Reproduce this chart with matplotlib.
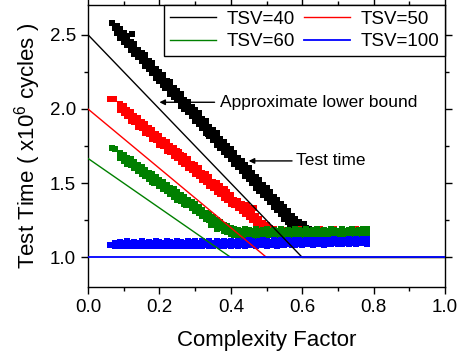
import numpy as np
import matplotlib
matplotlib.use("Agg")
import matplotlib.pyplot as plt

plt.rcParams['font.family'] = ['Liberation Sans', 'DejaVu Sans']
plt.rcParams['mathtext.fontset'] = 'custom'
plt.rcParams['mathtext.rm'] = 'Liberation Sans'
plt.rcParams['mathtext.it'] = 'Liberation Sans'

# ---- measured test time (upper edge, middle and lower edge of each noisy band) ----
black_x = [0.08, 0.09, 0.10, 0.11, 0.12, 0.13, 0.14, 0.15, 0.16, 0.17, 0.18, 0.19,
           0.20, 0.21, 0.22, 0.23, 0.24, 0.25, 0.26, 0.27, 0.28, 0.29, 0.30, 0.31,
           0.32, 0.33, 0.34, 0.35, 0.36, 0.37, 0.38, 0.39, 0.40, 0.41, 0.42, 0.43,
           0.44, 0.45, 0.46, 0.47, 0.48, 0.49, 0.50, 0.51, 0.52, 0.53, 0.54, 0.55,
           0.56, 0.57, 0.58, 0.59, 0.60, 0.61, 0.62, 0.63]
black_hi = [2.56, 2.54, 2.51, 2.49, 2.45, 2.44, 2.40, 2.38, 2.36, 2.32, 2.31, 2.27,
            2.25, 2.23, 2.19, 2.18, 2.14, 2.12, 2.10, 2.06, 2.05, 2.01, 1.99, 1.97,
            1.93, 1.92, 1.88, 1.86, 1.84, 1.80, 1.78, 1.75, 1.73, 1.70, 1.67, 1.65,
            1.62, 1.60, 1.57, 1.54, 1.52, 1.49, 1.47, 1.44, 1.41, 1.39, 1.36, 1.34,
            1.31, 1.28, 1.26, 1.24, 1.21, 1.20, 1.19, 1.18]
black_mid = [2.535, 2.505, 2.485, 2.455, 2.43, 2.40, 2.38, 2.35, 2.32, 2.30, 2.27, 2.24,
             2.22, 2.19, 2.165, 2.14, 2.11, 2.09, 2.06, 2.03, 2.01, 1.98, 1.955, 1.93,
             1.90, 1.88, 1.85, 1.82, 1.80, 1.77, 1.745, 1.72, 1.69, 1.665, 1.64, 1.61,
             1.585, 1.56, 1.535, 1.505, 1.48, 1.455, 1.43, 1.40, 1.375, 1.35, 1.325, 1.30,
             1.27, 1.245, 1.22, 1.20, 1.185, 1.175, 1.17, 1.165]
black_lo = [2.51, 2.48, 2.45, 2.43, 2.40, 2.37, 2.35, 2.32, 2.29, 2.27, 2.24, 2.21,
            2.19, 2.16, 2.14, 2.10, 2.08, 2.06, 2.02, 2.00, 1.98, 1.95, 1.92, 1.90,
            1.87, 1.84, 1.82, 1.79, 1.76, 1.74, 1.71, 1.69, 1.66, 1.63, 1.61, 1.58,
            1.55, 1.53, 1.50, 1.47, 1.45, 1.42, 1.40, 1.37, 1.34, 1.32, 1.29, 1.26,
            1.24, 1.22, 1.19, 1.17, 1.16, 1.15, 1.15, 1.15]
black_extra_x = [0.066, 0.076, 0.097, 0.122, 0.105, 0.215, 0.335, 0.455, 0.565, 0.605]
black_extra_y = [2.58, 2.545, 2.50, 2.505, 2.47, 2.14, 1.83, 1.55, 1.21, 1.225]

red_x = [0.09, 0.10, 0.11, 0.12, 0.13, 0.14, 0.15, 0.16, 0.17, 0.18, 0.19, 0.20,
         0.21, 0.22, 0.23, 0.24, 0.25, 0.26, 0.27, 0.28, 0.29, 0.30, 0.31, 0.32,
         0.33, 0.34, 0.35, 0.36, 0.37, 0.38, 0.39, 0.40, 0.41, 0.42, 0.43, 0.44,
         0.45, 0.46, 0.47, 0.48, 0.49, 0.50, 0.51, 0.52, 0.53, 0.55, 0.57, 0.59,
         0.61, 0.63, 0.65, 0.67, 0.69, 0.71, 0.73, 0.75, 0.77, 0.78]
red_hi = [2.03, 2.02, 1.99, 1.98, 1.95, 1.94, 1.91, 1.90, 1.87, 1.86, 1.83, 1.82,
          1.79, 1.78, 1.75, 1.74, 1.72, 1.69, 1.68, 1.66, 1.63, 1.62, 1.60, 1.57,
          1.56, 1.54, 1.51, 1.50, 1.48, 1.45, 1.44, 1.42, 1.39, 1.38, 1.36, 1.34,
          1.33, 1.30, 1.28, 1.26, 1.23, 1.22, 1.20, 1.19, 1.18, 1.185, 1.18, 1.19,
          1.18, 1.185, 1.19, 1.18, 1.19, 1.185, 1.18, 1.19, 1.185, 1.19]
red_mid = [2.01, 1.995, 1.97, 1.95, 1.93, 1.91, 1.89, 1.87, 1.85, 1.83, 1.81, 1.79,
           1.77, 1.75, 1.73, 1.71, 1.695, 1.665, 1.655, 1.63, 1.61, 1.59, 1.575, 1.545,
           1.535, 1.51, 1.49, 1.47, 1.455, 1.425, 1.415, 1.39, 1.37, 1.355, 1.335, 1.315,
           1.30, 1.275, 1.255, 1.235, 1.21, 1.20, 1.185, 1.175, 1.17, 1.175, 1.17, 1.175,
           1.17, 1.175, 1.17, 1.175, 1.17, 1.175, 1.17, 1.175, 1.17, 1.175]
red_lo = [1.99, 1.97, 1.95, 1.92, 1.91, 1.88, 1.87, 1.84, 1.83, 1.80, 1.79, 1.76,
          1.75, 1.72, 1.71, 1.68, 1.67, 1.64, 1.63, 1.60, 1.59, 1.56, 1.55, 1.52,
          1.51, 1.48, 1.47, 1.44, 1.43, 1.40, 1.39, 1.36, 1.35, 1.33, 1.31, 1.29,
          1.27, 1.25, 1.23, 1.21, 1.19, 1.18, 1.17, 1.16, 1.16, 1.16, 1.16, 1.16,
          1.16, 1.16, 1.16, 1.16, 1.16, 1.16, 1.16, 1.16, 1.16, 1.16]
red_extra_x = [0.062, 0.072, 0.255, 0.385, 0.445, 0.465]
red_extra_y = [2.07, 2.065, 1.71, 1.46, 1.35, 1.33]

green_x = [0.09, 0.10, 0.11, 0.12, 0.13, 0.14, 0.15, 0.16, 0.17, 0.18, 0.19, 0.20,
           0.21, 0.22, 0.23, 0.24, 0.25, 0.26, 0.27, 0.28, 0.29, 0.30, 0.31, 0.32,
           0.33, 0.34, 0.35, 0.36, 0.37, 0.38, 0.39, 0.40, 0.41, 0.42, 0.43, 0.44,
           0.45, 0.46, 0.47, 0.48, 0.49, 0.50, 0.51, 0.52, 0.53, 0.54, 0.55, 0.56,
           0.57, 0.58, 0.59, 0.60, 0.61, 0.62, 0.63, 0.64, 0.65, 0.66, 0.67, 0.68,
           0.69, 0.70, 0.71, 0.72, 0.73, 0.74, 0.75, 0.76, 0.77, 0.78]
green_hi = [1.70, 1.69, 1.67, 1.66, 1.64, 1.62, 1.61, 1.59, 1.57, 1.56, 1.54, 1.52,
            1.51, 1.49, 1.47, 1.46, 1.44, 1.42, 1.41, 1.39, 1.37, 1.36, 1.34, 1.32,
            1.30, 1.29, 1.27, 1.25, 1.24, 1.22, 1.21, 1.20, 1.19, 1.185, 1.18, 1.19,
            1.185, 1.18, 1.19, 1.18, 1.185, 1.19, 1.18, 1.185, 1.18, 1.19, 1.18, 1.185,
            1.18, 1.19, 1.185, 1.18, 1.19, 1.18, 1.185, 1.19, 1.18, 1.185, 1.18, 1.19,
            1.185, 1.18, 1.19, 1.18, 1.185, 1.19, 1.18, 1.185, 1.19, 1.19]
green_mid = [1.685, 1.67, 1.65, 1.64, 1.62, 1.60, 1.585, 1.57, 1.55, 1.535, 1.52, 1.50,
             1.485, 1.47, 1.45, 1.435, 1.415, 1.40, 1.385, 1.37, 1.35, 1.335, 1.32, 1.30,
             1.28, 1.27, 1.25, 1.23, 1.22, 1.20, 1.19, 1.18, 1.17, 1.165, 1.16, 1.165,
             1.17, 1.16, 1.165, 1.16, 1.17, 1.165, 1.16, 1.165, 1.17, 1.16, 1.165, 1.16,
             1.17, 1.165, 1.16, 1.165, 1.17, 1.16, 1.165, 1.16, 1.17, 1.165, 1.16, 1.165,
             1.17, 1.16, 1.165, 1.16, 1.17, 1.165, 1.16, 1.165, 1.17, 1.165]
green_lo = [1.67, 1.65, 1.63, 1.62, 1.60, 1.58, 1.56, 1.55, 1.53, 1.51, 1.50, 1.48,
            1.46, 1.45, 1.43, 1.41, 1.39, 1.38, 1.36, 1.35, 1.33, 1.31, 1.30, 1.28,
            1.26, 1.25, 1.23, 1.21, 1.20, 1.18, 1.17, 1.16, 1.15, 1.145, 1.14, 1.145,
            1.15, 1.14, 1.145, 1.15, 1.14, 1.145, 1.15, 1.14, 1.145, 1.15, 1.14, 1.145,
            1.15, 1.14, 1.145, 1.15, 1.14, 1.145, 1.15, 1.14, 1.145, 1.15, 1.14, 1.145,
            1.15, 1.14, 1.145, 1.15, 1.14, 1.145, 1.15, 1.14, 1.145, 1.15]
green_extra_x = [0.066, 0.075, 0.36, 0.185, 0.275, 0.345]
green_extra_y = [1.735, 1.73, 1.19, 1.50, 1.35, 1.22]

blue_x = [0.075, 0.09, 0.10, 0.11, 0.12, 0.13, 0.14, 0.15, 0.16, 0.17, 0.18, 0.19,
          0.20, 0.21, 0.22, 0.23, 0.24, 0.25, 0.26, 0.27, 0.28, 0.29, 0.30, 0.31,
          0.32, 0.33, 0.34, 0.35, 0.36, 0.37, 0.38, 0.39, 0.40, 0.41, 0.42, 0.43,
          0.44, 0.45, 0.46, 0.47, 0.48, 0.49, 0.50, 0.51, 0.52, 0.53, 0.54, 0.55,
          0.56, 0.57, 0.58, 0.59, 0.60, 0.61, 0.62, 0.63, 0.64, 0.65, 0.66, 0.67,
          0.68, 0.69, 0.70, 0.71, 0.72, 0.73, 0.74, 0.75, 0.76, 0.77, 0.78]
blue_hi = [1.10, 1.105, 1.10, 1.11, 1.10, 1.105, 1.10, 1.11, 1.10, 1.105, 1.10, 1.11,
           1.105, 1.10, 1.11, 1.105, 1.10, 1.11, 1.105, 1.10, 1.11, 1.105, 1.11, 1.10,
           1.11, 1.105, 1.11, 1.10, 1.11, 1.105, 1.11, 1.105, 1.11, 1.105, 1.11, 1.10,
           1.11, 1.115, 1.11, 1.105, 1.11, 1.115, 1.11, 1.105, 1.115, 1.11, 1.115, 1.11,
           1.115, 1.11, 1.115, 1.12, 1.11, 1.115, 1.12, 1.115, 1.12, 1.115, 1.12, 1.115,
           1.12, 1.125, 1.12, 1.115, 1.12, 1.125, 1.12, 1.125, 1.12, 1.125, 1.125]
blue_mid = blue_hi
blue_lo = [1.08, 1.075, 1.08, 1.075, 1.08, 1.08, 1.075, 1.08, 1.08, 1.075, 1.08, 1.08,
           1.075, 1.08, 1.08, 1.075, 1.08, 1.08, 1.075, 1.08, 1.08, 1.08, 1.075, 1.08,
           1.08, 1.085, 1.08, 1.08, 1.085, 1.08, 1.08, 1.085, 1.08, 1.085, 1.08, 1.085,
           1.08, 1.085, 1.085, 1.08, 1.085, 1.085, 1.08, 1.085, 1.085, 1.08, 1.085, 1.085,
           1.09, 1.085, 1.085, 1.09, 1.085, 1.09, 1.09, 1.085, 1.09, 1.09, 1.085, 1.09,
           1.09, 1.095, 1.09, 1.09, 1.095, 1.09, 1.095, 1.09, 1.095, 1.095, 1.09]
blue_extra_x = [0.062, 0.068]
blue_extra_y = [1.082, 1.082]

# ---- approximate lower bounds (piecewise linear vertices) ----
bound40_x, bound40_y = [0.0, 0.6, 1.0], [2.5, 1.0, 1.0]
bound50_x, bound50_y = [0.0, 0.5, 1.0], [2.0, 1.0, 1.0]
bound60_x, bound60_y = [0.0, 0.4, 1.0], [1.667, 1.0, 1.0]
bound100_x, bound100_y = [0.0, 1.0], [1.0, 1.0]

labels = ['TSV=40', 'TSV=50', 'TSV=60', 'TSV=100']
colors = ['black', 'red', 'green', 'blue']

fig = plt.figure(figsize=(4.58, 3.58), dpi=100)
ax = fig.add_axes([0.192, 0.198, 0.780, 0.788])

series = [
    (black_x, [black_hi, black_mid, black_lo], black_extra_x, black_extra_y),
    (red_x, [red_hi, red_mid, red_lo], red_extra_x, red_extra_y),
    (green_x, [green_hi, green_mid, green_lo], green_extra_x, green_extra_y),
    (blue_x, [blue_hi, blue_mid, blue_lo], blue_extra_x, blue_extra_y),
]
ms = 18
for (sx, rows, ex, ey), c in zip(series, colors):
    for row in rows:
        ax.scatter(sx, row, s=ms, marker='s', color=c, linewidths=0, zorder=2)
    ax.scatter(ex, ey, s=ms, marker='s', color=c, linewidths=0, zorder=2)

bounds = [(bound40_x, bound40_y), (bound50_x, bound50_y),
          (bound60_x, bound60_y), (bound100_x, bound100_y)]
handles = []
for (bx, by), c, lab in zip(bounds, colors, labels):
    lw = 1.3 if c == 'blue' else 1.0
    h, = ax.plot(bx, by, color=c, lw=lw, label=lab, zorder=3)
    handles.append(h)

ax.set_xlim(0.0, 1.0)
ax.set_ylim(0.8, 2.7)
ax.set_xticks([0.0, 0.2, 0.4, 0.6, 0.8, 1.0])
ax.set_xticks([0.1, 0.3, 0.5, 0.7, 0.9], minor=True)
ax.set_yticks([1.0, 1.5, 2.0, 2.5])
ax.set_yticks([1.25, 1.75, 2.25], minor=True)
ax.tick_params(which='both', direction='out', top=True, right=True,
               labelsize=13.5, width=1.0)
ax.tick_params(which='major', length=5)
ax.tick_params(which='minor', length=3)
for sp in ax.spines.values():
    sp.set_linewidth(1.0)

ax.set_xlabel('Complexity Factor', fontsize=16, labelpad=10)
ax.set_ylabel('Test Time ( x10$^6$ cycles )', fontsize=16, labelpad=5)

# legend: row order 40, 50 / 60, 100
leg = ax.legend([handles[0], handles[2], handles[1], handles[3]],
                [labels[0], labels[2], labels[1], labels[3]],
                ncol=2, loc='upper right', fontsize=13.5, frameon=True,
                fancybox=False, edgecolor='black', framealpha=1,
                handlelength=2.5, handletextpad=0.55, columnspacing=0.45,
                labelspacing=0.28, borderpad=0.3, borderaxespad=0.0)
leg.get_frame().set_linewidth(1.0)

ax.annotate('Approximate lower bound', xy=(0.2, 2.045), xytext=(0.37, 2.045),
            fontsize=12.5, va='center', ha='left',
            arrowprops=dict(arrowstyle='-|>', color='black', lw=1.0,
                            mutation_scale=8, shrinkA=2, shrinkB=0))
ax.annotate('Test time', xy=(0.45, 1.65), xytext=(0.583, 1.65),
            fontsize=12.5, va='center', ha='left',
            arrowprops=dict(arrowstyle='-|>', color='black', lw=1.0,
                            mutation_scale=8, shrinkA=1, shrinkB=0))

fig.savefig('out.png', dpi=100)
